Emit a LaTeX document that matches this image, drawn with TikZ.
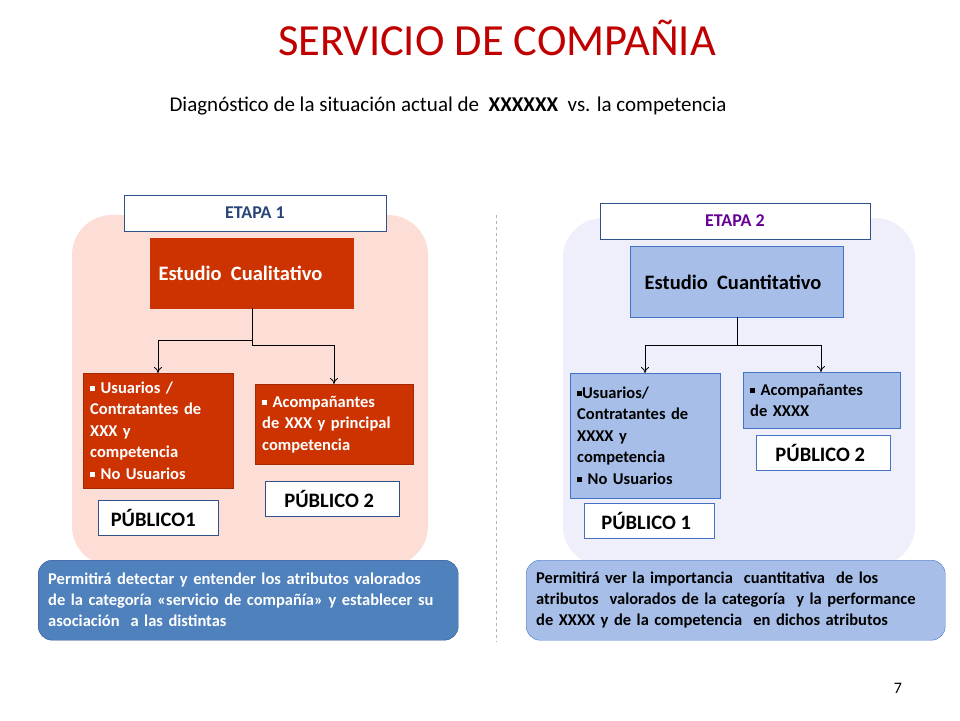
\documentclass[tikz,border=0pt]{standalone}
\usepackage{fontspec}
\setmainfont{Carlito}
\usetikzlibrary{positioning,calc,arrows.meta}
\definecolor{rojo}{HTML}{CC3300}
\definecolor{rosa}{HTML}{FDDED6}
\definecolor{lila}{HTML}{EFEFFB}
\definecolor{celeste}{HTML}{A7BFE8}
\definecolor{azul}{HTML}{4F81BD}
\definecolor{borde}{HTML}{4472C4}
\definecolor{titulo}{HTML}{C00000}
\newcommand{\cuad}{\rule[2pt]{5pt}{5pt}}
\tikzset{
    etapa/.style={draw=borde!70!black, fill=white, minimum width=#1, minimum height=36pt, font=\fontsize{18}{20}\selectfont\bfseries},
    estudio/.style={anchor=north west, minimum width=#1, minimum height=70pt},
    hijo/.style={anchor=north west, align=left, text width=#1, inner sep=7pt, font=\fontsize{16.5}{21.5}\selectfont\bfseries},
    publico/.style={draw=borde!70!black, fill=white, anchor=north west, minimum width=#1, minimum height=35pt, font=\fontsize{20.5}{22}\selectfont\bfseries},
    nota/.style={rounded corners=14pt, anchor=north west, minimum height=80pt, align=left, text width=#1, inner xsep=10pt, inner ysep=8pt, font=\fontsize{16.5}{21}\selectfont\bfseries},
    flecha/.style={-{To[length=6pt,width=8pt]}, thick}
}
\begin{document}
\begin{tikzpicture}[x=1pt,y=-1pt]
    \useasboundingbox (0,0) rectangle (960,720);

    \node[text=titulo, font=\fontsize{44.5}{46}\selectfont] (titulo) at (497,38) {SERVICIO DE COMPAÑIA};
    \node[font=\fontsize{21}{24}\selectfont] (sub) at (448,106) {Diagnóstico de la situación actual de \ \textbf{XXXXXX} \ vs. la competencia};

    % fondos
    \fill[rosa, rounded corners=40pt] (72,215) rectangle (428,566);
    \fill[lila, rounded corners=40pt] (563,218) rectangle (915,566);
    \draw[gray!60, dashed] (496,215) -- (496,642);

    % etapa 1
    \node[etapa=262pt, text=borde!60!black] (et1) at (255,213) {ETAPA 1};
    \node[estudio=203pt, fill=rojo, draw=rojo] (cual) at (150,238) {};
    \node[anchor=west, text=white, font=\fontsize{20.5}{22}\selectfont\bfseries] (cualt) at (155,273) {Estudio \ Cualitativo};
    \node[hijo=136pt, fill=rojo, draw=rojo!80!black, text=white, minimum height=115pt] (usu1) at (83,373)
        {\cuad{} Usuarios /\\Contratantes de\\XXX y\\competencia\\\cuad{} No Usuarios};
    \node[hijo=144pt, fill=rojo, draw=rojo!80!black, text=white, minimum height=80pt] (aco1) at (255,384)
        {\cuad{} Acompañantes\\de XXX y principal\\competencia};
    \node[publico=120pt] (pub11) at (98,500) {\hspace*{-10pt}PÚBLICO1};
    \node[publico=134pt] (pub12) at (265,481) {\hspace*{-6pt}PÚBLICO 2};

    \coordinate (c1) at (252,340);
    \coordinate (c2) at (252,345);
    \draw[thick] (cual.south -| c1) -- (c2);
    \draw[flecha] (c1) -| (usu1.north -| 158,0);
    \draw[flecha] (c2) -| (aco1.north -| 334,0);

    \node[nota=400pt, fill=azul, draw=borde!70!black, text=white] (nota1) at (38,560)
        {Permitirá detectar y entender los atributos valorados\\de la categoría «servicio de compañía» y establecer su\\asociación \ a las distintas};

    % etapa 2
    \node[etapa=270pt, text=violet!80!blue] (et2) at (735,221) {ETAPA 2};
    \node[estudio=213pt, fill=celeste, draw=borde, minimum height=71pt] (cuan) at (630,246) {};
    \node[font=\fontsize{20.5}{22}\selectfont\bfseries] (cuant) at (733,282) {Estudio \ Cuantitativo};
    \node[hijo=136pt, fill=celeste, draw=borde, minimum height=125pt] (usu2) at (570,373)
        {\cuad{}Usuarios/\\Contratantes de\\XXXX y\\competencia\\\cuad{} No Usuarios};
    \node[hijo=143pt, fill=celeste, draw=borde, minimum height=56pt] (aco2) at (743,372)
        {\cuad{} Acompañantes\\de XXXX};
    \node[publico=130pt, draw=borde] (pub21) at (584,503) {\hspace*{-6pt}PÚBLICO 1};
    \node[publico=134pt, draw=borde] (pub22) at (756,435) {\hspace*{-6pt}PÚBLICO 2};

    \coordinate (d1) at (737,345);
    \draw[thick] (cuan.south -| d1) -- (d1);
    \draw[flecha] (d1) -| (usu2.north -| 645,0);
    \draw[flecha] (d1) -| (aco2.north -| 821,0);

    \node[nota=399pt, fill=celeste, draw=borde] (nota2) at (526,560)
        {Permitirá ver la importancia \ cuantitativa \ de los\\atributos \ valorados de la categoría \ y la performance\\de XXXX y de la competencia \ en dichos atributos};

    \node[font=\fontsize{16}{18}\selectfont] (pag) at (898,688) {7};
\end{tikzpicture}
\end{document}
